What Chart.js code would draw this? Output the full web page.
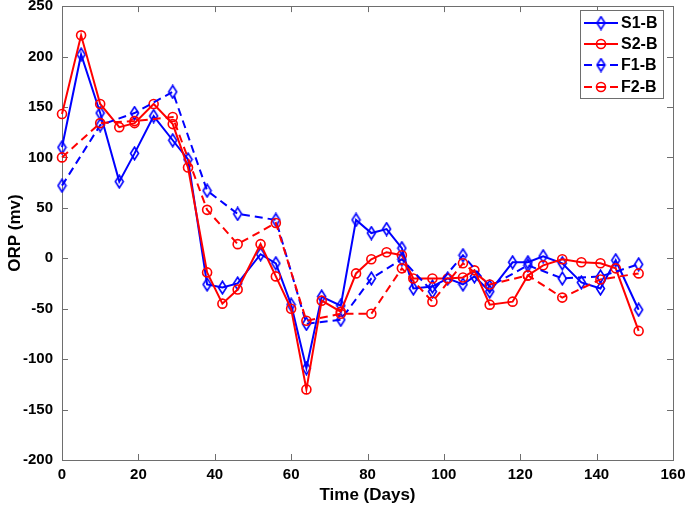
<!DOCTYPE html>
<html><head><meta charset="utf-8">
<script src="https://cdn.jsdelivr.net/npm/chart.js@4.4.1/dist/chart.umd.min.js"></script>
<style>html,body{margin:0;padding:0;background:#fff;}</style>
</head><body>
<canvas id="c" width="685" height="509"></canvas>
<script>
// ---- data ----
const seriesNames = ['S1-B', 'S2-B', 'F1-B', 'F2-B'];
const daysS = [0,5,10,15,19,24,29,33,38,42,46,52,56,60,64,68,73,77,81,85,89,92,97,101,105,108,112,118,122,126,131,136,141,145,151];
const s1B   = [110,202,144,76,104,141,117,98,-26,-29,-25,4,-5,-46,-109,-38,-47,38,25,29,10,-30,-28,-20,-26,-18,-33,-4,-4,2,-5,-24,-30,-2,-51];
const s2B   = [143,221,153,130,134,153,133,90,-14,-45,-31,14,-18,-50,-130,-42,-53,-15,-1,6,3,-20,-20,-20,-19,-12,-46,-43,-17,-7,-1,-4,-5,-10,-72];
const daysF = [0,10,19,29,38,46,56,64,73,81,89,97,105,112,122,131,141,151];
const f1B   = [72,132,144,165,67,44,38,-65,-61,-20,-1,-33,3,-28,-7,-20,-18,-6];
const f2B   = [100,134,136,140,48,14,35,-62,-55,-55,-10,-43,-5,-26,-17,-39,-21,-15];
const xTickValues = [0,20,40,60,80,100,120,140,160];
const yTickValues = [-200,-150,-100,-50,0,50,100,150,200,250];

const BLUE = 'rgb(0,0,255)', RED = 'rgb(255,0,0)';
const FONT = '"Liberation Sans", Arial, sans-serif';

function diamond(color) {
  const w = 11, h = 15, c = document.createElement('canvas');
  c.width = w; c.height = h;
  const x = c.getContext('2d');
  x.strokeStyle = color; x.lineWidth = 1.6;
  x.beginPath(); x.moveTo(w/2, 1.2); x.lineTo(w-1.5, h/2); x.lineTo(w/2, h-1.2); x.lineTo(1.5, h/2); x.closePath(); x.stroke();
  return c;
}
const dia = diamond(BLUE);

function pts(xs, ys) { return xs.map((d, i) => ({x: d, y: ys[i]})); }

const datasets = [
  {label: seriesNames[0], data: pts(daysS, s1B), borderColor: BLUE, dash: [], pointStyle: dia, order: 4},
  {label: seriesNames[1], data: pts(daysS, s2B), borderColor: RED, dash: [], pointStyle: 'circle', order: 3},
  {label: seriesNames[2], data: pts(daysF, f1B), borderColor: BLUE, dash: [8,5], pointStyle: dia, order: 2},
  {label: seriesNames[3], data: pts(daysF, f2B), borderColor: RED, dash: [8,5], pointStyle: 'circle', order: 1}
].map(d => ({
  label: d.label, data: d.data, order: d.order,
  borderColor: d.borderColor, borderWidth: 2, borderDash: d.dash,
  pointStyle: d.pointStyle, pointRadius: 4.5, pointBorderWidth: 1.6,
  pointBorderColor: d.borderColor, pointBackgroundColor: 'rgba(0,0,0,0)',
  tension: 0, clip: false, fill: false
}));

const boxPlugin = {
  id: 'box',
  beforeDatasetsDraw(chart) {
    const {ctx, chartArea: a, scales} = chart;
    ctx.save();
    ctx.strokeStyle = '#6e6e6e'; ctx.lineWidth = 1;
    ctx.strokeRect(Math.round(a.left)+0.5, Math.round(a.top)+0.5, Math.round(a.right-a.left), Math.round(a.bottom-a.top));
    const tl = 6;
    ctx.beginPath();
    xTickValues.forEach(v => {
      const px = Math.round(scales.x.getPixelForValue(v)) + 0.5;
      ctx.moveTo(px, a.bottom); ctx.lineTo(px, a.bottom - tl);
      ctx.moveTo(px, a.top); ctx.lineTo(px, a.top + tl);
    });
    yTickValues.forEach(v => {
      const py = Math.round(scales.y.getPixelForValue(v)) + 0.5;
      ctx.moveTo(a.left, py); ctx.lineTo(a.left + tl, py);
      ctx.moveTo(a.right, py); ctx.lineTo(a.right - tl, py);
    });
    ctx.stroke();
    ctx.restore();
  }
};

const legendPlugin = {
  id: 'innerLegend',
  afterDraw(chart) {
    const ctx = chart.ctx;
    const bx = 580.5, by = 10.5, bw = 83, bh = 88;
    ctx.save();
    ctx.fillStyle = '#fff'; ctx.fillRect(bx, by, bw, bh);
    ctx.strokeStyle = '#6e6e6e'; ctx.lineWidth = 1; ctx.strokeRect(bx, by, bw, bh);
    const rows = [23, 44, 65, 87];
    chart.data.datasets.forEach((ds, i) => {
      const y = rows[i];
      ctx.strokeStyle = ds.borderColor; ctx.lineWidth = 2;
      ctx.setLineDash(ds.borderDash);
      ctx.beginPath(); ctx.moveTo(584, y); ctx.lineTo(618, y); ctx.stroke();
      ctx.setLineDash([]);
      if (ds.pointStyle === 'circle') {
        ctx.lineWidth = 1.6;
        ctx.beginPath(); ctx.arc(601, y, 4.5, 0, Math.PI*2); ctx.stroke();
      } else {
        ctx.drawImage(ds.pointStyle, 601 - ds.pointStyle.width/2, y - ds.pointStyle.height/2);
      }
      ctx.fillStyle = '#000';
      ctx.font = 'bold 16px ' + FONT;
      ctx.textAlign = 'left'; ctx.textBaseline = 'middle';
      ctx.fillText(ds.label, 621, y + 1);
    });
    ctx.restore();
  }
};

new Chart(document.getElementById('c'), {
  type: 'line',
  data: {datasets},
  options: {
    responsive: false, animation: false, devicePixelRatio: 1,
    layout: {padding: {top: 6, right: 12, left: 0, bottom: 0}},
    plugins: {legend: {display: false}, tooltip: {enabled: false}},
    scales: {
      x: {
        type: 'linear', min: 0, max: 160,
        grid: {display: false, drawTicks: false}, border: {display: false},
        afterBuildTicks: s => { s.ticks = xTickValues.map(v => ({value: v})); },
        ticks: {color: '#000', padding: 6, font: {family: FONT, weight: 'bold', size: 15}, maxRotation: 0},
        title: {display: true, text: 'Time (Days)', color: '#000', font: {family: FONT, weight: 'bold', size: 17}, padding: {top: 0, bottom: 3}},
        afterFit: s => { s.height = 49; s.paddingLeft = 0; s.paddingRight = 0; }
      },
      y: {
        type: 'linear', min: -200, max: 250,
        grid: {display: false, drawTicks: false}, border: {display: false},
        afterBuildTicks: s => { s.ticks = yTickValues.map(v => ({value: v})); },
        ticks: {color: '#000', padding: 9, font: {family: FONT, weight: 'bold', size: 15}},
        title: {display: true, text: 'ORP (mv)', color: '#000', font: {family: FONT, weight: 'bold', size: 17}, padding: {top: 5, bottom: 0}},
        afterFit: s => { s.width = 62; s.paddingTop = 0; s.paddingBottom = 0; }
      }
    }
  },
  plugins: [boxPlugin, legendPlugin]
});
</script>
</body></html>
